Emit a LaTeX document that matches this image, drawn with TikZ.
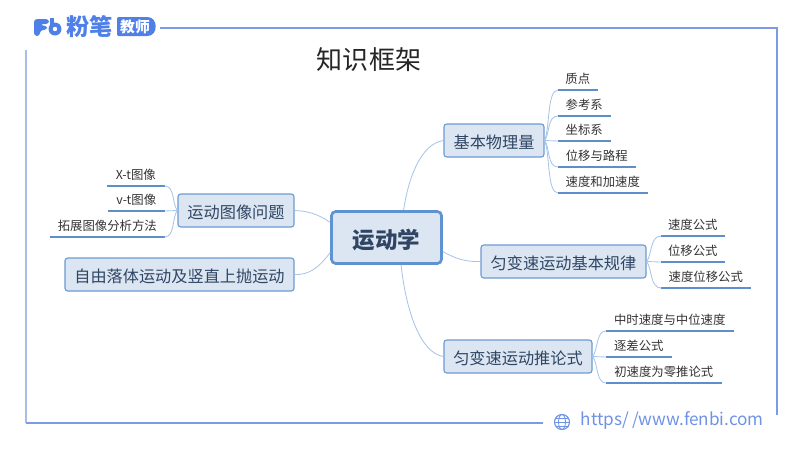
\documentclass[tikz,border=0pt]{standalone}
\usepackage{fontspec}
\setmainfont{Noto Sans CJK SC}
\usetikzlibrary{calc}

\definecolor{framec}{HTML}{7C9BE0}
\definecolor{framel}{HTML}{A9BEE6}
\definecolor{logoc}{HTML}{4F80E8}
\definecolor{boxfill}{HTML}{DCE6F2}
\definecolor{boxline}{HTML}{6C9BD2}
\definecolor{rootline}{HTML}{5E92D0}
\definecolor{boxtext}{HTML}{2F4563}
\definecolor{branchc}{HTML}{A9C5E6}
\definecolor{leafline}{HTML}{5F8FCB}
\definecolor{urlc}{HTML}{6F92E4}

\tikzset{
  rootbox/.style={draw=rootline,line width=1.9pt,fill=boxfill,rounded corners=3pt,text=boxtext,
    font=\fontsize{16}{18}\selectfont\bfseries,minimum width=2.75cm,minimum height=1.3cm,
    text height=17pt,text depth=2pt},
  mainbox/.style={draw=boxline,line width=.8pt,fill=boxfill,rounded corners=2pt,text=boxtext,
    font=\fontsize{11.5}{14}\selectfont,minimum height=.825cm,inner sep=0pt,
    text height=12.5pt,text depth=1.5pt},
  leaf/.style={anchor=south west,text=black!80,font=\fontsize{8.8}{11}\selectfont,
    minimum height=.57cm,inner sep=0pt},
  underl/.style={draw=leafline,line width=.9pt},
  branch/.style={draw=branchc,line width=.6pt}
}

\begin{document}
\begin{tikzpicture}[x=.025cm,y=-.025cm]
\useasboundingbox (0,0) rectangle (800,450);

% frame
\coordinate (TL) at (160,28);
\coordinate (TR) at (777,28);
\coordinate (BR) at (777,415);
\coordinate (LT) at (26,50);
\coordinate (LB) at (26,423);
\coordinate (BE) at (543,423);
\draw[framec,line width=.9pt] (TL) -- (TR) -- (BR);
\draw[framel,line width=.9pt] (LT) -- (LB);
\draw[framec,line width=.9pt] (LB) -- (BE);

% logo
\fill[logoc,rounded corners=2.2pt] (34,36) -- (34,19) -- (49,19) -- (49,24) -- (40,24) -- (40,25.5) -- (47,25.5) -- (47,30) -- (40,30) -- (40,36) -- cycle;
\fill[logoc] (50,18) rectangle (54,30);
\fill[logoc] (55,29) circle (6.5);
\fill[white] (55,29) circle (2.2);
\node[inner sep=0pt,text=logoc,font=\fontsize{16.5}{18}\selectfont\bfseries] (brand) at (89.5,27) {粉笔};
\fill[logoc,rounded corners=1pt] (117,17) -- (146,17) .. controls (158.5,17) and (158.5,36) .. (146,36) -- (117,36) -- cycle;
\node[inner sep=0pt,text=white,font=\fontsize{10.5}{12}\selectfont\bfseries] (tag) at (135,27) {教师};

% title
\node[inner sep=0pt,text=black!85,font=\fontsize{18.5}{20}\selectfont] (title) at (369,60) {知识框架};

% main nodes
\node[rootbox] (root) at (386.5,237.5) {运动学};
\node[mainbox,minimum width=2.5cm] (basic) at (494,140.5) {基本物理量};
\node[mainbox,minimum width=4.125cm] (rule) at (563.5,261.5) {匀变速运动基本规律};
\node[mainbox,minimum width=3.7cm] (infer) at (518,356.5) {匀变速运动推论式};
\node[mainbox,minimum width=2.9cm] (graph) at (236,210.5) {运动图像问题};
\node[mainbox,minimum width=5.725cm] (fall) at (179.5,274.5) {自由落体运动及竖直上抛运动};

% leaves of basic
\node[leaf,minimum width=.975cm] (b1) at (558,90) {质点};
\node[leaf,minimum width=1.3cm] (b2) at (558,116) {参考系};
\node[leaf,minimum width=1.3cm] (b3) at (558,141) {坐标系};
\node[leaf,minimum width=1.925cm] (b4) at (558,167) {位移与路程};
\node[leaf,minimum width=2.225cm] (b5) at (558,193) {速度和加速度};
% leaves of rule
\node[leaf,minimum width=1.575cm] (r1) at (661,236) {速度公式};
\node[leaf,minimum width=1.575cm] (r2) at (661,262) {位移公式};
\node[leaf,minimum width=2.225cm] (r3) at (661,288) {速度位移公式};
% leaves of infer
\node[leaf,minimum width=3.175cm] (i1) at (606,331) {中时速度与中位速度};
\node[leaf,minimum width=1.625cm] (i2) at (606,357) {逐差公式};
\node[leaf,minimum width=2.875cm] (i3) at (606,383) {初速度为零推论式};
% leaves of graph
\node[leaf,minimum width=1.425cm] (g1) at (107,186) {X-t图像};
\node[leaf,minimum width=1.4cm] (g2) at (108,211) {v-t图像};
\node[leaf,minimum width=2.85cm] (g3) at (50,237) {拓展图像分析方法};

% underlines
\draw[underl] (b1.south west) -- (b1.south east);
\draw[underl] (b2.south west) -- (b2.south east);
\draw[underl] (b3.south west) -- (b3.south east);
\draw[underl] (b4.south west) -- (b4.south east);
\draw[underl] (b5.south west) -- (b5.south east);
\draw[underl] (r1.south west) -- (r1.south east);
\draw[underl] (r2.south west) -- (r2.south east);
\draw[underl] (r3.south west) -- (r3.south east);
\draw[underl] (i1.south west) -- (i1.south east);
\draw[underl] (i2.south west) -- (i2.south east);
\draw[underl] (i3.south west) -- (i3.south east);
\draw[underl] (g1.south west) -- (g1.south east);
\draw[underl] (g2.south west) -- (g2.south east);
\draw[underl] (g3.south west) -- (g3.south east);

% branches from root
\draw[branch] (root.58) .. controls (408,180) and (420,144) .. (basic.west);
\draw[branch] (root.-14) .. controls (456,259) and (466,262) .. (rule.west);
\draw[branch] (root.-62) .. controls (406,310) and (420,353) .. (infer.west);
\draw[branch] (root.165) .. controls (318,214) and (308,211) .. (graph.east);
\draw[branch] (root.195) .. controls (318,269) and (308,275) .. (fall.east);

% branches to leaves
\draw[branch] (basic.east) .. controls (550,128) and (547,90) .. (b1.south west);
\draw[branch] (basic.east) .. controls (550,134) and (547,116) .. (b2.south west);
\draw[branch] (basic.east) -- (b3.south west);
\draw[branch] (basic.east) .. controls (550,147) and (547,167) .. (b4.south west);
\draw[branch] (basic.east) .. controls (550,153) and (547,193) .. (b5.south west);
\draw[branch] (rule.east) .. controls (652,255) and (650,236) .. (r1.south west);
\draw[branch] (rule.east) -- (r2.south west);
\draw[branch] (rule.east) .. controls (652,268) and (650,288) .. (r3.south west);
\draw[branch] (infer.east) .. controls (598,350) and (596,331) .. (i1.south west);
\draw[branch] (infer.east) -- (i2.south west);
\draw[branch] (infer.east) .. controls (598,363) and (596,383) .. (i3.south west);
\draw[branch] (graph.west) .. controls (172,204) and (175,186) .. (g1.south east);
\draw[branch] (graph.west) -- (g2.south east);
\draw[branch] (graph.west) .. controls (172,217) and (175,237) .. (g3.south east);

% footer
\coordinate (G) at (562,422);
\draw[urlc,line width=.8pt] (G) circle (7.5);
\draw[urlc,line width=.6pt] (G) ellipse (3.5 and 7.5);
\draw[urlc,line width=.6pt] (554.5,422) -- (569.5,422);
\draw[urlc,line width=.6pt] (555.5,418) -- (568.5,418);
\draw[urlc,line width=.6pt] (555.5,426) -- (568.5,426);
\node[anchor=west,inner sep=0pt,text=urlc,font=\fontsize{12.2}{14}\selectfont] (url) at (580.5,421) {https/\,/www.fenbi.com};

\end{tikzpicture}
\end{document}
